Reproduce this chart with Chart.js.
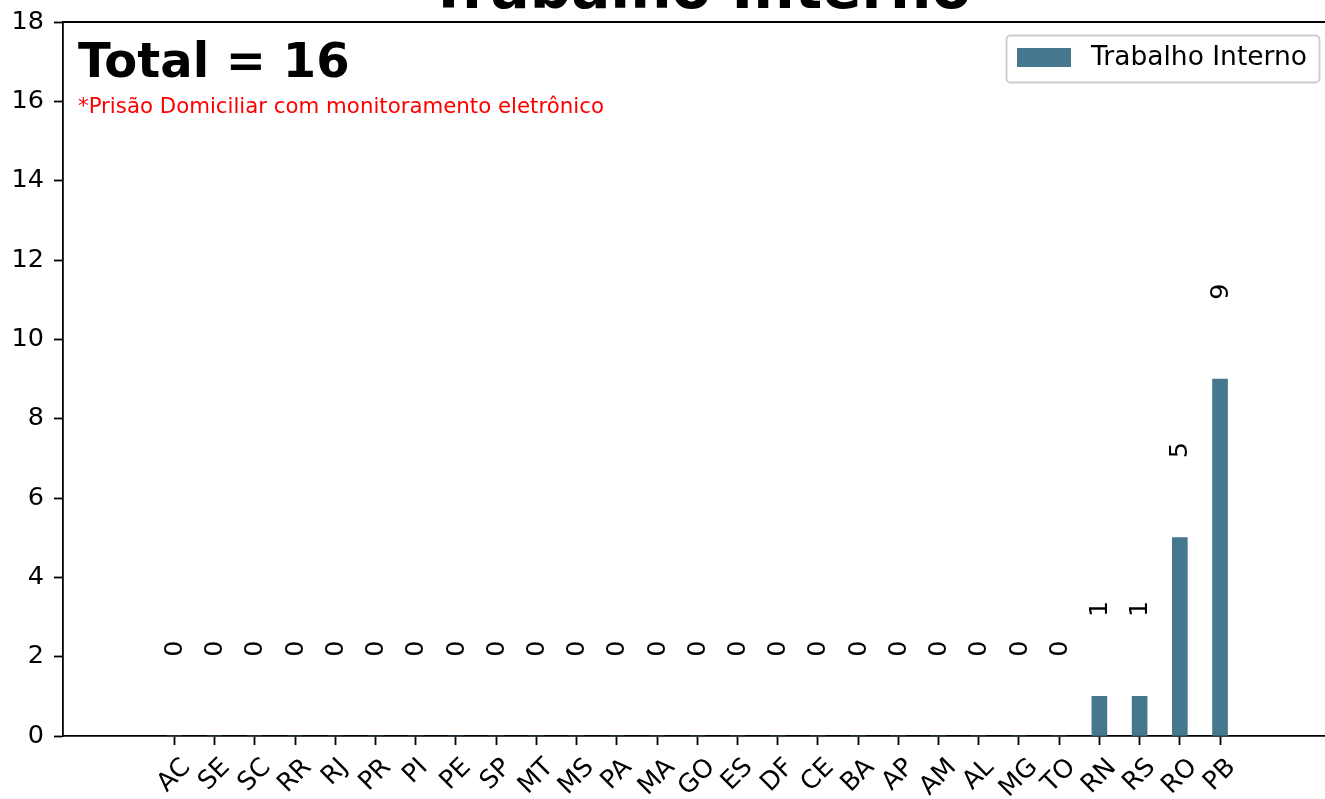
<!DOCTYPE html>
<html>
<head>
<meta charset="utf-8">
<script src="https://cdn.jsdelivr.net/npm/chart.js@4.4.1/dist/chart.umd.min.js"></script>
<style>
    html, body { margin: 0; padding: 0; background: #fff; overflow: hidden; }
    #chart { display: block; }
</style>
</head>
<body>
<canvas id="chart" width="1325" height="799"></canvas>
<script>
// --- Data ---
const states = ['AC', 'SE', 'SC', 'RR', 'RJ', 'PR', 'PI', 'PE', 'SP', 'MT', 'MS', 'PA', 'MA', 'GO',
                'ES', 'DF', 'CE', 'BA', 'AP', 'AM', 'AL', 'MG', 'TO', 'RN', 'RS', 'RO', 'PB'];
const trabalhoInterno = [0, 0, 0, 0, 0, 0, 0, 0, 0, 0, 0, 0, 0, 0,
                         0, 0, 0, 0, 0, 0, 0, 0, 0, 1, 1, 5, 9];
const yTicks = [0, 2, 4, 6, 8, 10, 12, 14, 16, 18];
const chartTitle = 'Trabalho Interno';
const seriesLabel = 'Trabalho Interno';
const totalText = 'Total = 16';
const noteText = '*Prisão Domiciliar com monitoramento eletrônico';
const labelOffset = 2; // value labels sit this far above each bar

const barColor = '#45778f';
const FONT = 'DejaVu Sans';
const TICK_SIZE = 25.5;
Chart.defaults.font.family = FONT;
Chart.defaults.color = '#000';

// --- Custom drawing: title, annotations, legend, value labels, rotated x labels ---
const decorations = {
    id: 'decorations',
    afterDraw(chart) {
        const { ctx, chartArea, scales } = chart;
        const xs = scales.x, ys = scales.y;
        ctx.save();

        // top spine
        ctx.strokeStyle = '#000';
        ctx.lineWidth = 1.8;
        ctx.beginPath();
        ctx.moveTo(chartArea.left, chartArea.top);
        ctx.lineTo(chartArea.right, chartArea.top);
        ctx.stroke();

        // title (partly cut off at the top)
        ctx.fillStyle = '#000';
        ctx.font = `bold 58px ${FONT}`;
        ctx.textAlign = 'center';
        ctx.textBaseline = 'alphabetic';
        ctx.fillText(chartTitle, 700, 8);

        // total + note
        ctx.textAlign = 'left';
        ctx.font = `bold 48px ${FONT}`;
        ctx.fillText(totalText, 78, 77);
        ctx.fillStyle = '#ff0000';
        ctx.font = `21.3px ${FONT}`;
        ctx.fillText(noteText, 78, 113);

        // legend
        ctx.fillStyle = '#fff';
        ctx.strokeStyle = '#cccccc';
        ctx.lineWidth = 1.8;
        ctx.beginPath();
        ctx.roundRect(1006.5, 35.5, 313, 47, 4);
        ctx.fill();
        ctx.stroke();
        ctx.fillStyle = barColor;
        ctx.fillRect(1017, 48, 54, 19);
        ctx.fillStyle = '#000';
        ctx.font = `26.5px ${FONT}`;
        ctx.textBaseline = 'middle';
        ctx.fillText(seriesLabel, 1091, 58);

        // value labels, rotated 90°
        trabalhoInterno.forEach((v, i) => {
            const px = xs.getPixelForValue(i);
            const py = ys.getPixelForValue(v + labelOffset);
            ctx.save();
            ctx.translate(px, py);
            ctx.rotate(-Math.PI / 2);
            ctx.textAlign = 'left';
            ctx.textBaseline = 'middle';
            ctx.font = `${TICK_SIZE}px ${FONT}`;
            ctx.fillText(String(v), 0, 1);
            ctx.restore();
        });

        // x labels rotated 45°, centred under each tick
        ctx.font = `${TICK_SIZE}px ${FONT}`;
        const top = chartArea.bottom + 17;
        states.forEach((s, i) => {
            const px = xs.getPixelForValue(i);
            const w = ctx.measureText(s).width;
            const h = TICK_SIZE * 1.16;
            const cy = top + (w + h) / (2 * Math.SQRT2);
            ctx.save();
            ctx.translate(px, cy);
            ctx.rotate(-Math.PI / 4);
            ctx.textAlign = 'center';
            ctx.textBaseline = 'middle';
            ctx.fillText(s, 0, 0);
            ctx.restore();
        });

        ctx.restore();
    }
};

new Chart(document.getElementById('chart'), {
    type: 'bar',
    data: {
        datasets: [{
            label: seriesLabel,
            data: trabalhoInterno.map((v, i) => ({ x: i, y: v })),
            backgroundColor: barColor,
            barThickness: 15,
            borderWidth: 0,
        }]
    },
    options: {
        responsive: false,
        devicePixelRatio: 1,
        animation: false,
        layout: { padding: { top: 22, left: 0, right: 0, bottom: 0 } },
        plugins: {
            legend: { display: false },
            title: { display: false },
            tooltip: { enabled: false },
        },
        scales: {
            x: {
                type: 'linear',
                offset: false,
                min: -2.77,
                max: 28.61,
                afterBuildTicks: scale => { scale.ticks = states.map((_, i) => ({ value: i })); },
                afterFit: scale => { scale.height = 63; scale.paddingLeft = 0; scale.paddingRight = 0; },
                ticks: { callback: () => '', autoSkip: false },
                grid: { offset: false, drawOnChartArea: false, drawTicks: true, tickLength: 9, color: '#000', tickWidth: 1.8 },
                border: { color: '#000', width: 1.8 },
            },
            y: {
                min: 0,
                max: 18,
                afterBuildTicks: scale => { scale.ticks = yTicks.map(v => ({ value: v })); },
                afterFit: scale => { scale.width = 63; scale.paddingTop = 0; scale.paddingBottom = 0; },
                ticks: { font: { size: TICK_SIZE }, padding: 10, color: '#000' },
                grid: { drawOnChartArea: false, drawTicks: true, tickLength: 9, color: '#000', tickWidth: 1.8 },
                border: { color: '#000', width: 1.8 },
            }
        }
    },
    plugins: [decorations]
});
</script>
</body>
</html>
